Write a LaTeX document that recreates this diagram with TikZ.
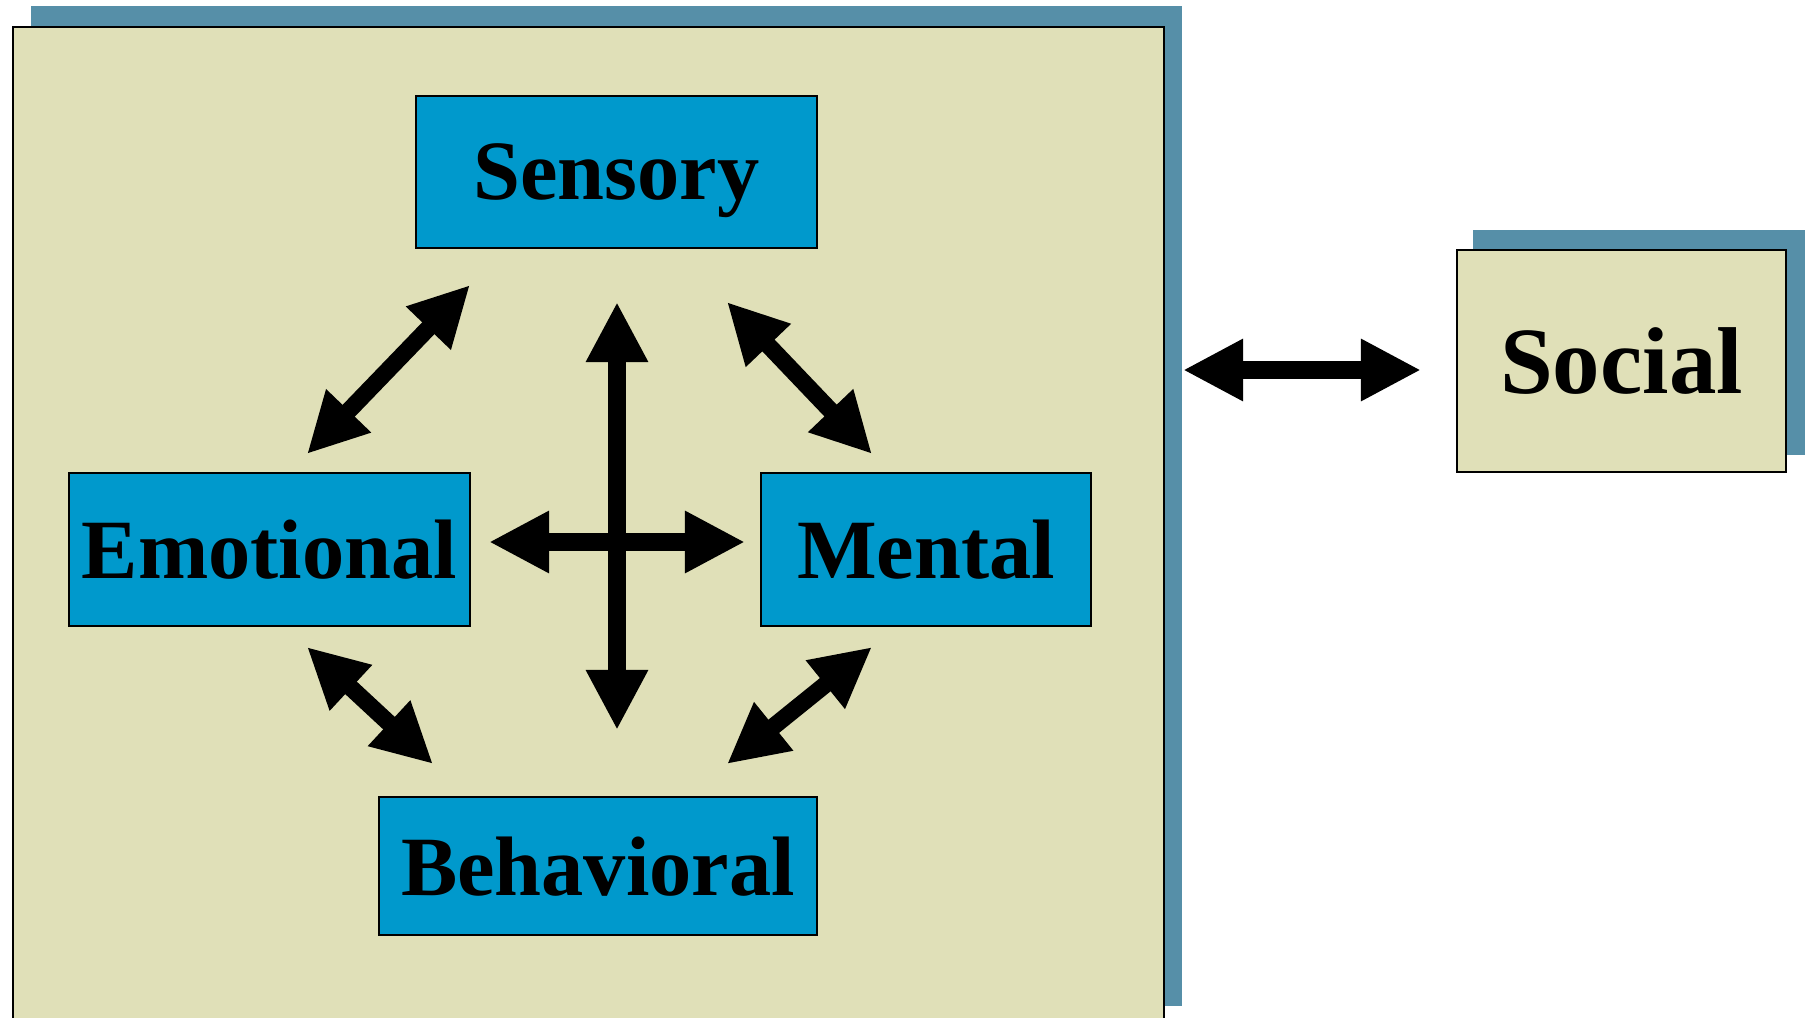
\documentclass[tikz,border=0pt]{standalone}
\usepackage{fontspec}
\setmainfont{Liberation Serif}
\usetikzlibrary{arrows.meta,positioning}
\definecolor{panelColor}{RGB}{224,224,184}
\definecolor{shadowColor}{RGB}{86,143,168}
\definecolor{boxColor}{RGB}{0,153,204}
\tikzstyle{pixelGrid} = [x = 0.01cm, y = -0.01cm]
\tikzstyle{shadowStyle} = [fill=shadowColor]
\tikzstyle{panelStyle} = [draw=black, fill=panelColor, line width=0.6pt]
\tikzstyle{boxStyle} = [draw=black, fill=boxColor, line width=0.6pt, inner sep=0pt, text depth=0pt, font=\fontsize{24}{28}\selectfont\bfseries]
\tikzstyle{socialStyle} = [boxStyle, fill=panelColor, font=\fontsize{27}{32}\selectfont\bfseries]
\tikzstyle{linkStyle} = [line width=0.17cm, >={Triangle[length=0.6cm, width=0.58cm]}, <->]
\newcommand{\linkArrow}[2]{\draw [linkStyle] (#1) -- (#2);}

\begin{document}
\begin{tikzpicture}[pixelGrid]
  \useasboundingbox (0,0) rectangle (1814,1018);
  % big panel with its shadow
  \fill [shadowStyle] (31,6) rectangle (1182,1006);
  \filldraw [panelStyle] (12.7,26.6) rectangle (1164,1040);
  % social panel with its shadow
  \fill [shadowStyle] (1473,230) rectangle (1805,455);

  \node [boxStyle, minimum width=4.01cm, minimum height=1.52cm] (sensory) at (616.5,172) {Sensory};
  \node [boxStyle, minimum width=4.01cm, minimum height=1.53cm] (emotional) at (269.5,549.5) {Emotional};
  \node [boxStyle, minimum width=3.30cm, minimum height=1.53cm] (mental) at (926,549.5) {Mental};
  \node [boxStyle, minimum width=4.38cm, minimum height=1.38cm] (behavioral) at (598,866) {Behavioral};
  \node [socialStyle, minimum width=3.28cm, minimum height=2.21cm] (social) at (1621.5,361) {Social};

  % arrow ends
  \coordinate (emotionalUp) at (307,454);
  \coordinate (sensoryLeft) at (470,285);
  \coordinate (sensoryRight) at (727,302);
  \coordinate (mentalUp) at (872,454);
  \coordinate (emotionalDown) at (307,647);
  \coordinate (behavioralLeft) at (433,764);
  \coordinate (mentalDown) at (872,647);
  \coordinate (behavioralRight) at (727,764);
  \coordinate (sensoryDown) at (617,302);
  \coordinate (behavioralUp) at (617,730);
  \coordinate (emotionalRight) at (489,542);
  \coordinate (mentalLeft) at (745,542);
  \coordinate (panelEdge) at (1183,370);
  \coordinate (socialLeft) at (1421,370);

  \linkArrow{emotionalUp}{sensoryLeft}
  \linkArrow{sensoryRight}{mentalUp}
  \linkArrow{emotionalDown}{behavioralLeft}
  \linkArrow{mentalDown}{behavioralRight}
  \linkArrow{emotionalRight}{mentalLeft}
  \linkArrow{sensoryDown}{behavioralUp}
  \linkArrow{panelEdge}{socialLeft}
\end{tikzpicture}
\end{document}
